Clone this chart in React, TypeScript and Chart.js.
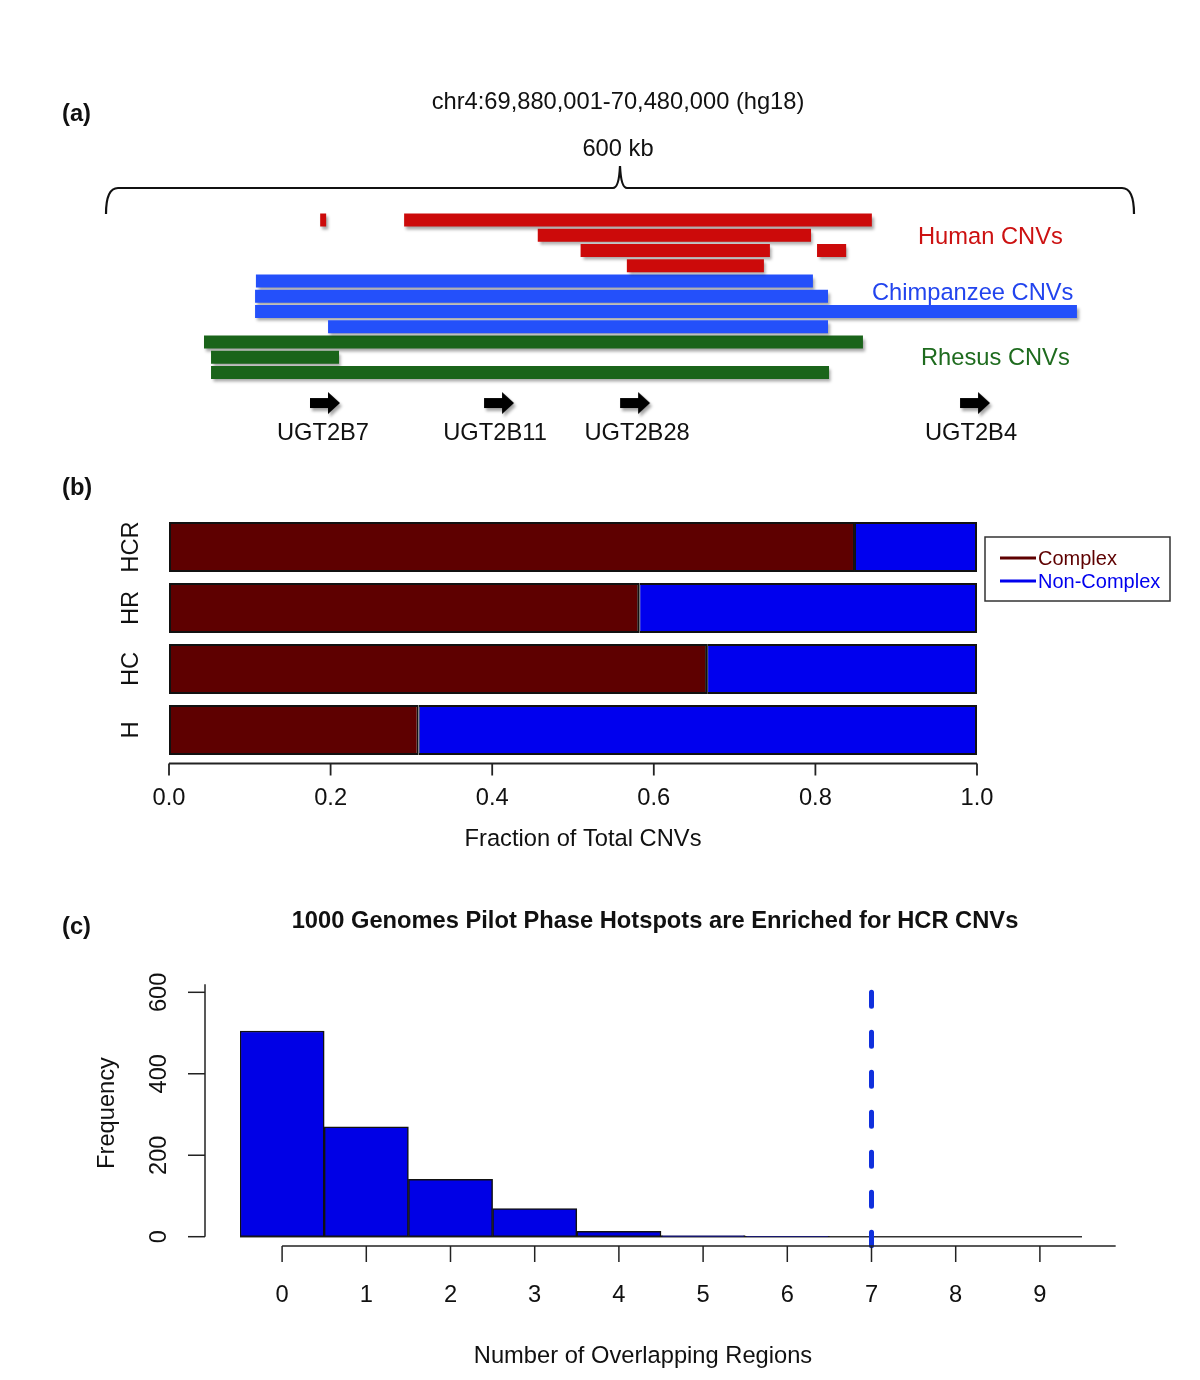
import React, { useEffect, useRef } from 'react';
import { Chart, registerables } from 'chart.js';

Chart.register(...registerables);

const FONT = "'Liberation Sans', Arial, Helvetica, sans-serif";
const W = 1200;
const H = 1380;
const TXT = '#111111';
const FS = 23.7;

// ---------------- Panel (a): CNV tracks ----------------
const regionTitle = 'chr4:69,880,001-70,480,000 (hg18)';
const regionSpanLabel = '600 kb';
const regionSpanKb = 600;
const trackRows = ['H1', 'H2', 'H3', 'H4', 'C1', 'C2', 'C3', 'C4', 'R1', 'R2', 'R3', 'spacer', 'genes'];
const humanRows = ['H1', 'H1', 'H2', 'H3', 'H3', 'H4'];
const humanStart = [125, 174, 252, 277, 415, 304];
const humanEnd = [128.5, 447, 411.5, 387.5, 432, 384];
const chimpRows = ['C1', 'C2', 'C3', 'C4'];
const chimpStart = [87.5, 87, 87, 129.6];
const chimpEnd = [412.6, 421.4, 566.7, 421.4];
const rhesusRows = ['R1', 'R2', 'R3'];
const rhesusStart = [57.2, 61.3, 61.3];
const rhesusEnd = [441.8, 136, 422];
const geneNames = ['UGT2B7', 'UGT2B11', 'UGT2B28', 'UGT2B4'];
const genePosKb = [127.8, 229.4, 308.8, 507.2];
const speciesLabels = ['Human CNVs', 'Chimpanzee CNVs', 'Rhesus CNVs'];

// ---------------- Panel (b): fractions ----------------
const cnvClasses = ['HCR', 'HR', 'HC', 'H'];
const complexFraction = [0.849, 0.582, 0.666, 0.309];
const nonComplexFraction = [0.151, 0.418, 0.334, 0.691];
const fractionTicks = [0, 0.2, 0.4, 0.6, 0.8, 1.0];
const seriesNames = ['Complex', 'Non-Complex'];

// ---------------- Panel (c): histogram ----------------
const overlapBins = [0, 1, 2, 3, 4, 5, 6, 7, 8, 9];
const binFrequency = [505, 270, 141, 69, 13, 3, 1, 0, 0, 0];
const frequencyTicks = [0, 200, 400, 600];
const observedOverlap = 7;
const observedLineSpan = [600, -22];
const histTitle = '1000 Genomes Pilot Phase Hotspots are Enriched for HCR CNVs';

const RED = '#CC0A0A';
const BLUE_A = '#2450FA';
const GREEN = '#1A641A';
const DARKRED = '#5E0000';
const BLUE = '#0000EE';

function txt(ctx: CanvasRenderingContext2D, s: string, x: number, y: number, o: any = {}) {
  ctx.save();
  ctx.font = `${o.weight || 'normal'} ${o.size || FS}px ${FONT}`;
  ctx.fillStyle = o.color || TXT;
  ctx.textAlign = o.align || 'center';
  ctx.textBaseline = o.baseline || 'middle';
  ctx.translate(x, y);
  if (o.rotate) ctx.rotate(o.rotate);
  ctx.fillText(s, 0, 0);
  ctx.restore();
}

function line(ctx: CanvasRenderingContext2D, x1: number, y1: number, x2: number, y2: number, w = 1.5, c = '#222') {
  ctx.save();
  ctx.strokeStyle = c;
  ctx.lineWidth = w;
  ctx.beginPath();
  ctx.moveTo(x1, y1);
  ctx.lineTo(x2, y2);
  ctx.stroke();
  ctx.restore();
}

function makeArrow(): HTMLCanvasElement {
  const c = document.createElement('canvas');
  c.width = 34;
  c.height = 24;
  const g = c.getContext('2d')!;
  g.fillStyle = '#000';
  g.beginPath();
  g.moveTo(2, 7);
  g.lineTo(20, 7);
  g.lineTo(20, 1);
  g.lineTo(32, 12);
  g.lineTo(20, 23);
  g.lineTo(20, 17);
  g.lineTo(2, 17);
  g.closePath();
  g.fill();
  return c;
}

function buildA(canvas: HTMLCanvasElement) {
  const top = 212.4;
  const bottom = top + trackRows.length * 15.25;
  const seg = (rows: string[], s: number[], e: number[]) => rows.map((r, i) => ({ y: r, x: [s[i], e[i]] }));
  const shadow = {
    id: 'shadow',
    beforeDatasetsDraw(chart: any) {
      const ctx = chart.ctx;
      ctx.save();
      ctx.shadowColor = 'rgba(0,0,0,0.35)';
      ctx.shadowOffsetX = 2;
      ctx.shadowOffsetY = 3;
      ctx.shadowBlur = 3;
    },
    afterDatasetsDraw(chart: any) {
      chart.ctx.restore();
    },
  };
  const decor = {
    id: 'decorA',
    afterDraw(chart: any) {
      const { ctx } = chart;
      const x = chart.scales.x;
      const y = chart.scales.y;
      const xl = x.getPixelForValue(0);
      const xr = x.getPixelForValue(regionSpanKb);
      const xm = x.getPixelForValue(regionSpanKb / 2);
      const yl = 188;
      ctx.save();
      ctx.strokeStyle = '#111';
      ctx.lineWidth = 2.2;
      ctx.beginPath();
      ctx.moveTo(xl, yl + 26);
      ctx.quadraticCurveTo(xl, yl, xl + 12, yl);
      ctx.lineTo(xm - 7, yl);
      ctx.quadraticCurveTo(xm - 1, yl, xm, yl - 22);
      ctx.quadraticCurveTo(xm + 1, yl, xm + 7, yl);
      ctx.lineTo(xr - 12, yl);
      ctx.quadraticCurveTo(xr, yl, xr, yl + 26);
      ctx.stroke();
      ctx.restore();
      txt(ctx, '(a)', 62, 114, { weight: 'bold', align: 'left' });
      txt(ctx, regionTitle, xm - 2, 102);
      txt(ctx, regionSpanLabel, xm - 2, 149);
      txt(ctx, speciesLabels[0], 918, 237, { align: 'left', color: '#CC1111' });
      txt(ctx, speciesLabels[1], 872, 293, { align: 'left', color: '#2244EE' });
      txt(ctx, speciesLabels[2], 921, 358, { align: 'left', color: '#1E6B1E' });
      const gy = y.getPixelForValue(trackRows.indexOf('genes'));
      const shift = [-2, -4, 2, -4];
      geneNames.forEach((g, i) => txt(ctx, g, x.getPixelForValue(genePosKb[i]) + shift[i], gy + 30));
    },
  };
  const arrow = makeArrow();
  return new Chart(canvas, {
    type: 'bar',
    data: {
      labels: trackRows,
      datasets: [
        { label: speciesLabels[0], data: seg(humanRows, humanStart, humanEnd) as any, backgroundColor: RED },
        { label: speciesLabels[1], data: seg(chimpRows, chimpStart, chimpEnd) as any, backgroundColor: BLUE_A },
        { label: speciesLabels[2], data: seg(rhesusRows, rhesusStart, rhesusEnd) as any, backgroundColor: GREEN },
        {
          type: 'scatter',
          label: 'genes',
          data: genePosKb.map((p) => ({ x: p, y: 'genes' })) as any,
          pointStyle: arrow as any,
          pointRadius: 12,
          clip: false as any,
        } as any,
      ],
    },
    options: {
      indexAxis: 'y',
      animation: false,
      responsive: false,
      devicePixelRatio: 1,
      events: [],
      layout: { padding: { left: 106, right: W - 1134, top, bottom: H - bottom } },
      datasets: { bar: { grouped: false, categoryPercentage: 1, barPercentage: 13 / 15.25, borderWidth: 0 } as any },
      scales: {
        x: { type: 'linear', min: 0, max: regionSpanKb, display: false, offset: false },
        y: { type: 'category', display: false, offset: true },
      },
      plugins: { legend: { display: false }, tooltip: { enabled: false } },
    },
    plugins: [shadow, decor],
  } as any);
}

function buildB(canvas: HTMLCanvasElement) {
  const top = 516.5;
  const bottom = top + cnvClasses.length * 61;
  const decor = {
    id: 'decorB',
    afterDraw(chart: any) {
      const { ctx } = chart;
      const x = chart.scales.x;
      const y = chart.scales.y;
      const ay = chart.chartArea.bottom + 3;
      line(ctx, x.getPixelForValue(0), ay, x.getPixelForValue(1), ay, 1.8);
      fractionTicks.forEach((t) => {
        const px = x.getPixelForValue(t);
        line(ctx, px, ay, px, ay + 12, 1.8);
        txt(ctx, t.toFixed(1), px, 798);
      });
      txt(ctx, 'Fraction of Total CNVs', 583, 839);
      cnvClasses.forEach((c, i) => txt(ctx, c, 131, y.getPixelForValue(i), { rotate: -Math.PI / 2 }));
      txt(ctx, '(b)', 62, 488, { weight: 'bold', align: 'left' });
      // legend
      ctx.save();
      ctx.strokeStyle = '#333';
      ctx.lineWidth = 1.5;
      ctx.strokeRect(985, 537, 185, 64);
      ctx.restore();
      const cols = [DARKRED, BLUE];
      seriesNames.forEach((s, i) => {
        const ly = 558 + i * 23;
        line(ctx, 1000, ly, 1036, ly, 3, cols[i]);
        txt(ctx, s, 1038, ly + 1, { align: 'left', size: 20, color: cols[i] });
      });
    },
  };
  return new Chart(canvas, {
    type: 'bar',
    data: {
      labels: cnvClasses,
      datasets: [
        {
          label: seriesNames[0],
          data: complexFraction,
          backgroundColor: DARKRED,
          borderColor: '#111',
          borderWidth: 2,
          borderSkipped: false,
          inflateAmount: 0,
        },
        {
          label: seriesNames[1],
          data: nonComplexFraction,
          backgroundColor: BLUE,
          borderColor: '#111',
          borderWidth: { top: 2, bottom: 2, left: 1, right: 2 },
          borderSkipped: false,
          inflateAmount: 0,
        },
      ],
    },
    options: {
      indexAxis: 'y',
      animation: false,
      responsive: false,
      devicePixelRatio: 1,
      events: [],
      layout: { padding: { left: 169, right: W - 977, top, bottom: H - bottom } },
      datasets: { bar: { categoryPercentage: 1, barPercentage: 50 / 61 } },
      scales: {
        x: { type: 'linear', min: 0, max: 1, stacked: true, display: false, offset: false },
        y: { type: 'category', stacked: true, display: false, offset: true },
      },
      plugins: { legend: { display: false }, tooltip: { enabled: false } },
    },
    plugins: [decor],
  } as any);
}

function buildC(canvas: HTMLCanvasElement) {
  const left = 240;
  const right = 1082;
  const top = 992.3;
  const bottom = 1236.7;
  const decor = {
    id: 'decorC',
    beforeDatasetsDraw(chart: any) {
      const { ctx } = chart;
      const x = chart.scales.x;
      const y = chart.scales.y;
      const by = y.getPixelForValue(0);
      line(ctx, x.getPixelForValue(-0.5), by, x.getPixelForValue(9.5), by, 1.5, '#333');
    },
    afterDraw(chart: any) {
      const { ctx } = chart;
      const x = chart.scales.x;
      const y = chart.scales.y;
      // y axis
      const ax = 205;
      line(ctx, ax, y.getPixelForValue(0), ax, y.getPixelForValue(620), 1.5);
      frequencyTicks.forEach((t) => {
        const py = y.getPixelForValue(t);
        line(ctx, ax, py, ax - 17, py, 1.5);
        txt(ctx, String(t), 159, py, { rotate: -Math.PI / 2 });
      });
      txt(ctx, 'Frequency', 107, 1113, { rotate: -Math.PI / 2 });
      // x axis
      const ay = 1246;
      line(ctx, x.getPixelForValue(0), ay, x.getPixelForValue(9.9), ay, 1.5);
      overlapBins.forEach((b) => {
        const px = x.getPixelForValue(b);
        line(ctx, px, ay, px, ay + 16, 1.5);
        txt(ctx, String(b), px, 1295);
      });
      txt(ctx, 'Number of Overlapping Regions', 643, 1356);
      txt(ctx, histTitle, 655, 921, { weight: 'bold' });
      txt(ctx, '(c)', 62, 927, { weight: 'bold', align: 'left' });
    },
  };
  return new Chart(canvas, {
    type: 'bar',
    data: {
      datasets: [
        {
          type: 'bar',
          label: 'Frequency',
          data: overlapBins.map((b, i) => ({ x: b, y: binFrequency[i] })),
          backgroundColor: '#0000E6',
          borderColor: '#111',
          borderWidth: 1.5,
          borderSkipped: false,
          barPercentage: 1,
          categoryPercentage: 1,
          order: 2,
        },
        {
          type: 'line',
          label: 'Observed',
          data: observedLineSpan.map((v) => ({ x: observedOverlap, y: v })),
          borderColor: '#1030DD',
          borderWidth: 5,
          borderDash: [14, 26],
          borderCapStyle: 'round',
          pointRadius: 0,
          clip: false,
          order: 1,
        },
      ],
    },
    options: {
      animation: false,
      responsive: false,
      devicePixelRatio: 1,
      events: [],
      layout: { padding: { left, right: W - right, top, bottom: H - bottom } },
      scales: {
        x: { type: 'linear', min: -0.5, max: 9.5, display: false, offset: false },
        y: { type: 'linear', min: 0, max: 600, display: false },
      },
      plugins: { legend: { display: false }, tooltip: { enabled: false } },
    },
    plugins: [decor],
  } as any);
}

export default function App() {
  const aRef = useRef<HTMLCanvasElement>(null);
  const bRef = useRef<HTMLCanvasElement>(null);
  const cRef = useRef<HTMLCanvasElement>(null);
  useEffect(() => {
    const charts = [buildA(aRef.current!), buildB(bRef.current!), buildC(cRef.current!)];
    return () => charts.forEach((c) => c.destroy());
  }, []);
  const cs: React.CSSProperties = { position: 'absolute', left: 0, top: 0, width: W, height: H };
  return (
    <div style={{ position: 'absolute', left: 0, top: 0, width: W, height: H, background: '#fff', overflow: 'hidden' }}>
      <canvas ref={aRef} width={W} height={H} style={cs} />
      <canvas ref={bRef} width={W} height={H} style={cs} />
      <canvas ref={cRef} width={W} height={H} style={cs} />
    </div>
  );
}
